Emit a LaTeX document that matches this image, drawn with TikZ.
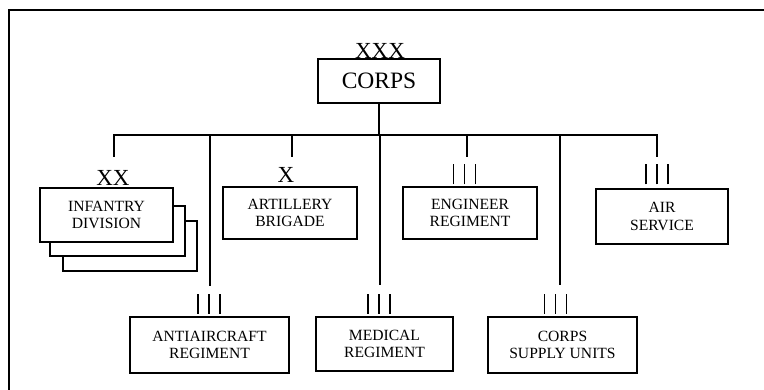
\documentclass[tikz,border=0pt]{standalone}
\usepackage{fontspec}
\setmainfont{Liberation Serif}
\begin{document}
\begin{tikzpicture}[x=1pt,y=-1pt,
  unit/.style={draw, line width=1.5pt, fill=white, inner sep=0pt, align=center,
    font=\fontsize{15.6}{17.7}\selectfont},
  echelon/.style={inner sep=0pt, anchor=base, font=\fontsize{23}{23}\selectfont},
  regmark/.style={minimum width=30pt, minimum height=20pt, inner sep=0pt,
    path picture={
      \draw[line width=1.4pt] ([xshift=-11pt]path picture bounding box.south) -- ([xshift=-11pt]path picture bounding box.north);
      \draw[line width=1.4pt] (path picture bounding box.south) -- (path picture bounding box.north);
      \draw[line width=1.4pt] ([xshift=11pt]path picture bounding box.south) -- ([xshift=11pt]path picture bounding box.north);
    }},
  link/.style={line width=1.5pt}]
\useasboundingbox (0,0) rectangle (764,390);
% frame (top and left only)
\draw[line width=1.8pt] (9,390) -- (9,10) -- (764,10);

% corps
\node[unit, minimum width=122pt, minimum height=44pt, font=\fontsize{23.5}{23.5}\selectfont] (corps) at (379,81) {CORPS};
\node[echelon] (xxx) at (380,59) {XXX};

% infantry division stack
\node[unit, minimum width=134pt, minimum height=50pt] (inf3) at (130,246) {};
\node[unit, minimum width=135pt, minimum height=50pt] (inf2) at (117.5,231) {};
\node[unit, minimum width=133pt, minimum height=54pt] (inf) at (106.5,215) {INFANTRY\\DIVISION};
\node[echelon] (xx) at (113,186) {XX};

% artillery brigade
\node[unit, minimum width=134pt, minimum height=52pt] (art) at (290,213) {ARTILLERY\\BRIGADE};
\node[echelon] (x) at (286,183) {X};

% engineer regiment
\node[unit, minimum width=134pt, minimum height=52pt] (eng) at (470,213) {ENGINEER\\REGIMENT};
\node[regmark] (engm) at (464.5,174.5) {};

% air service
\node[unit, minimum width=132pt, minimum height=55pt] (air) at (662,216.5) {AIR\\SERVICE};
\node[regmark] (airm) at (657,174.5) {};

% antiaircraft regiment
\node[unit, minimum width=159pt, minimum height=56pt] (aa) at (209.5,345) {ANTIAIRCRAFT\\REGIMENT};
\node[regmark] (aam) at (209,304) {};

% medical regiment
\node[unit, minimum width=137pt, minimum height=54pt] (med) at (384.5,344) {MEDICAL\\REGIMENT};
\node[regmark] (medm) at (379,304) {};

% corps supply units
\node[unit, minimum width=149pt, minimum height=56pt] (sup) at (562.5,345) {CORPS\\SUPPLY UNITS};
\node[regmark] (supm) at (555.5,304) {};

% connectors
\coordinate (busL) at (114,135);
\coordinate (busR) at (657,135);
\coordinate (tInf) at (114,157);
\coordinate (tArt) at (292,157);
\coordinate (tEng) at (467,157);
\coordinate (tAir) at (657,157);
\coordinate (tAA) at (210,286);
\coordinate (tMed) at (380,285);
\coordinate (tSup) at (560,285);

\draw[link] (corps.south) -- (corps.south |- busL);
\draw[link] (tInf) -- (busL) -- (busR) -- (tAir);
\draw[link] (tArt |- busL) -- (tArt);
\draw[link] (tEng |- busL) -- (tEng);
\draw[link] (tAA |- busL) -- (tAA);
\draw[link] (tMed |- busL) -- (tMed);
\draw[link] (tSup |- busL) -- (tSup);
\end{tikzpicture}
\end{document}
